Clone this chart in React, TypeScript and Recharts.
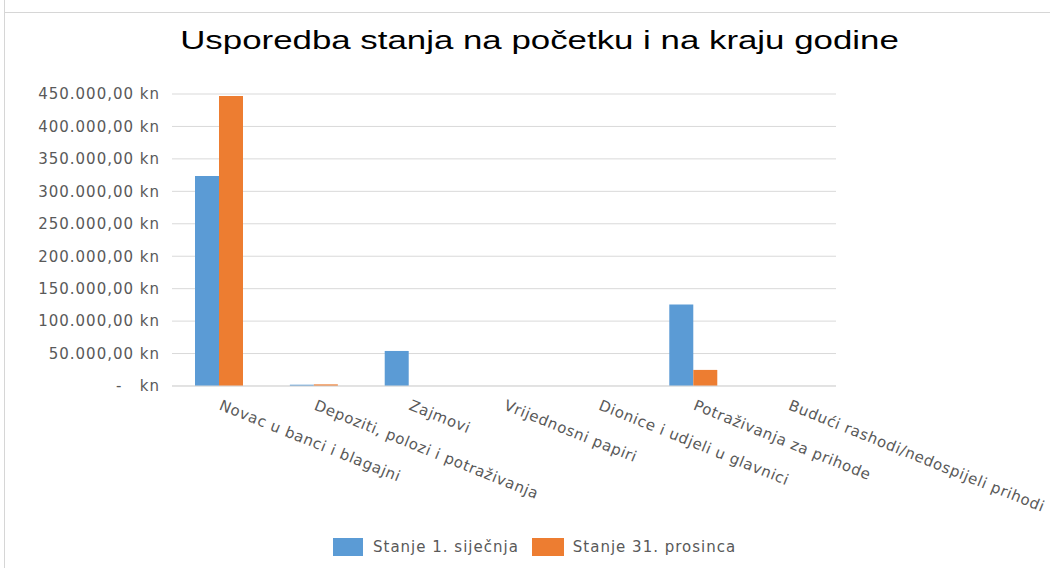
import { Bar, BarChart, CartesianGrid, XAxis, YAxis } from "recharts"

const categories = [
  "Novac u banci i blagajni",
  "Depoziti, polozi i potraživanja",
  "Zajmovi",
  "Vrijednosni papiri",
  "Dionice i udjeli u glavnici",
  "Potraživanja za prihode",
  "Budući rashodi/nedospijeli prihodi",
]
const stanjeSijecnja = [323500, 2000, 54000, 0, 0, 125500, 0]
const stanjeProsinca = [447000, 2500, 0, 0, 0, 24800, 0]
const yTicks = [0, 50000, 100000, 150000, 200000, 250000, 300000, 350000, 400000, 450000]
const seriesNames = ["Stanje 1. siječnja", "Stanje 31. prosinca"]

const BLUE = "#5B9BD5"
const ORANGE = "#ED7D31"
const TEXT = "#595959"
const FONT = "'DejaVu Sans', Verdana, sans-serif"

const data = categories.map((name, i) => ({
  name,
  a: stanjeSijecnja[i],
  b: stanjeProsinca[i],
}))

function formatKn(v: number) {
  if (v === 0) return "-\u00a0\u00a0\u00a0kn"
  return String(v).replace(/\B(?=(\d{3})+(?!\d))/g, ".") + ",00 kn"
}

function XTick(props: any) {
  const { x, payload } = props
  const px = x + 3
  const py = 399
  return (
    <text
      x={px}
      y={py}
      dy={11}
      transform={`rotate(22, ${px}, ${py})`}
      textAnchor="start"
      fill={TEXT}
      fontSize={15}
      fontFamily={FONT}
      letterSpacing={0.6}
    >
      {payload.value}
    </text>
  )
}

export default function App() {
  return (
    <div style={{ position: "absolute", left: 0, top: 0, width: 1050, height: 568, background: "#fff", overflow: "hidden" }}>
      {/* frame lines */}
      <div style={{ position: "absolute", left: 4, top: 0, width: 1, height: 568, background: "#d6d6d6" }} />
      <div style={{ position: "absolute", left: 4, top: 12, width: 1046, height: 1, background: "#d6d6d6" }} />

      <div
        style={{
          position: "absolute",
          left: 0,
          top: 25,
          width: 1079,
          textAlign: "center",
          fontFamily: "'Liberation Sans', Arial, sans-serif",
          fontSize: 26,
          color: "#000",
          transform: "scaleX(1.34)",
          transformOrigin: "539.5px 0",
          whiteSpace: "nowrap",
        }}
      >
        Usporedba stanja na početku i na kraju godine
      </div>

      <div style={{ position: "absolute", left: 0, top: 0 }}>
        <BarChart
          width={1050}
          height={568}
          data={data}
          margin={{ top: 94, right: 214, bottom: 152, left: 0 }}
          barSize={24}
          barGap={0}
        >
          <CartesianGrid vertical={false} stroke="#D9D9D9" />
          <XAxis
            dataKey="name"
            interval={0}
            tick={<XTick />}
            tickLine={false}
            axisLine={{ stroke: "#D9D9D9" }}
          />
          <YAxis
            width={172}
            domain={[0, 450000]}
            ticks={yTicks}
            tickFormatter={formatKn}
            tickLine={false}
            axisLine={false}
            tickMargin={6}
            tick={{ fill: TEXT, fontSize: 15, fontFamily: FONT, letterSpacing: 1 }}
          />
          <Bar dataKey="a" name={seriesNames[0]} fill={BLUE} isAnimationActive={false} />
          <Bar dataKey="b" name={seriesNames[1]} fill={ORANGE} isAnimationActive={false} />
        </BarChart>
      </div>

      {/* legend */}
      <div style={{ position: "absolute", left: 333, top: 538, height: 18, display: "flex", alignItems: "center", fontFamily: FONT, fontSize: 15, letterSpacing: 1, color: TEXT, whiteSpace: "nowrap" }}>
        <span style={{ width: 30, height: 18, background: BLUE, display: "inline-block", marginRight: 10 }} />
        <span style={{ marginRight: 13 }}>{seriesNames[0]}</span>
        <span style={{ width: 32, height: 18, background: ORANGE, display: "inline-block", marginRight: 9 }} />
        <span>{seriesNames[1]}</span>
      </div>
    </div>
  )
}
